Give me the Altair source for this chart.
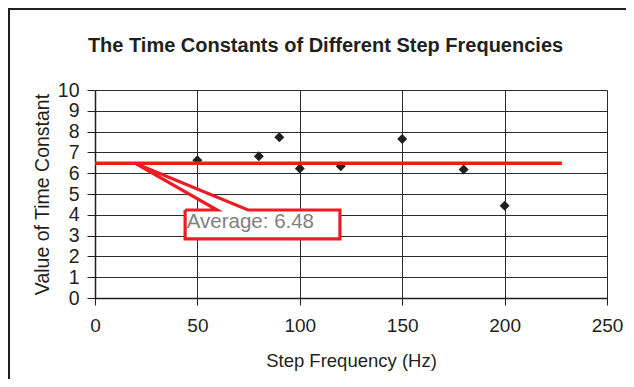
import altair as alt
import pandas as pd

# ---- data ----
freq = [50, 80, 90, 100, 120, 150, 180, 200]
tau = [6.62, 6.81, 7.73, 6.23, 6.33, 7.65, 6.18, 4.44]

avg_value = 6.48
avg_line_x = [0, 228]
avg_label = "Average: 6.48"

# callout outline (data coordinates): box with a wedge pointing to the average line
callout_x = [44, 59.6, 19.5, 74.7, 119.6, 119.6, 44, 44]
callout_y = [4.23, 4.23, 6.48, 4.23, 4.23, 2.84, 2.84, 4.23]
label_x = [44.8]
label_y = [3.37]

title_text = "The Time Constants of Different Step Frequencies"
x_ticks = [0, 50, 100, 150, 200, 250]
y_ticks = [0, 1, 2, 3, 4, 5, 6, 7, 8, 9, 10]

FONT = "Liberation Sans, Arial, Helvetica, sans-serif"
INK = "#231f20"
RED = "#ed1c24"

pts = pd.DataFrame({"f": freq, "t": tau})
avg_df = pd.DataFrame({"f": avg_line_x, "t": [avg_value] * len(avg_line_x)})
call_df = pd.DataFrame({"f": callout_x, "t": callout_y, "o": list(range(len(callout_x)))})
lab_df = pd.DataFrame({"f": label_x, "t": label_y, "s": [avg_label]})
title_df = pd.DataFrame({"s": [title_text]})

xscale = alt.Scale(domain=[0, 250], nice=False, zero=False)
yscale = alt.Scale(domain=[0, 10], nice=False, zero=False)

xaxis = alt.Axis(
    values=x_ticks, tickCount=50, format="d", title="Step Frequency (Hz)", grid=True,
    gridColor="#2b2b2b", gridWidth=1,
    domainColor=INK, domainWidth=1.5, tickColor=INK, tickSize=7, tickWidth=1,
    labelFontSize=19, labelPadding=11, labelColor=INK, labelFont=FONT,
    titleFontSize=18.5, titleFont=FONT, titleColor=INK, titleFontWeight="normal",
    titleBaseline="alphabetic", titleY=68, labelFlush=False, labelOverlap=False,
)
yaxis = alt.Axis(
    values=y_ticks, tickCount=50, format="d", title="Value of Time Constant", grid=True,
    gridColor="#2b2b2b", gridWidth=1,
    domainColor=INK, domainWidth=1.5, tickColor=INK, tickSize=8, tickWidth=1,
    labelFontSize=19.5, labelPadding=8, labelColor=INK, labelFont=FONT,
    titleFontSize=19.5, titleFont=FONT, titleColor=INK, titleFontWeight="normal",
    titleAngle=270, titleBaseline="alphabetic", titleX=-47, titleY=104, titleAlign="center",
    labelFlush=False, labelOverlap=False,
)

X = alt.X("f:Q", scale=xscale, axis=xaxis)
Y = alt.Y("t:Q", scale=yscale, axis=yaxis)

points = alt.Chart(pts).mark_point(shape="diamond", filled=True, size=100, color=INK, opacity=1).encode(
    x=X, y=Y
)

avg_line = alt.Chart(avg_df).mark_line(color=RED, strokeWidth=3.5, strokeCap="butt").encode(x=X, y=Y)

callout = alt.Chart(call_df).mark_line(
    fill="white", stroke=RED, strokeWidth=3.2, strokeJoin="miter", filled=False
).encode(x=X, y=Y, order="o:Q")

label = alt.Chart(lab_df).mark_text(
    align="left", baseline="alphabetic", fontSize=20.5, font=FONT, color="#7f7f7f"
).encode(x=X, y=Y, text="s:N")

title = alt.Chart(title_df).mark_text(
    align="center", baseline="alphabetic", fontSize=20, fontWeight="bold", font=FONT, color=INK
).encode(x=alt.value(230.5), y=alt.value(-38), text="s:N")

# outer frame of the figure (left and top edges visible)
frame_left = alt.Chart(title_df).mark_rule(color=INK, strokeWidth=2).encode(
    x=alt.value(-86), y=alt.value(-81), y2=alt.value(300)
)
frame_top = alt.Chart(title_df).mark_rule(color=INK, strokeWidth=2).encode(
    x=alt.value(-87), x2=alt.value(540), y=alt.value(-81)
)

chart = alt.layer(points, avg_line, callout, label, title, frame_left, frame_top).properties(
    width=512, height=208,
    autosize=alt.AutoSizeParams(type="none"),
    padding={"left": 87, "top": 82, "right": 19, "bottom": 81},
).configure_view(stroke=INK, strokeWidth=1.5).configure(background="white")

chart.save("out.html", embed_options={"renderer": "svg", "actions": False})
